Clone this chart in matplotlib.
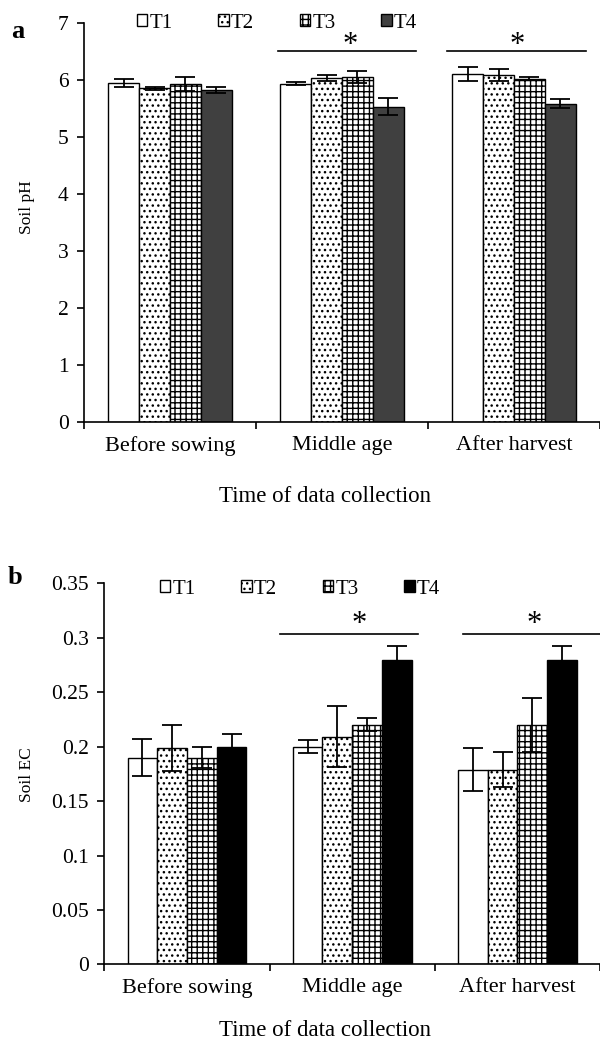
import numpy as np
import matplotlib
matplotlib.use('Agg')
import matplotlib.pyplot as plt

plt.rcParams['font.family'] = ['Liberation Serif', 'DejaVu Serif']
plt.rcParams['hatch.linewidth'] = 1.0

stages = ['Before sowing', 'Middle age', 'After harvest']
treatments = ['T1', 'T2', 'T3', 'T4']

# soil pH (panel a), rows = treatments, columns = stages
ph_mean = [[5.95, 5.93, 6.10],
           [5.85, 6.03, 6.08],
           [5.93, 6.05, 6.02],
           [5.82, 5.53, 5.58]]
ph_err = [[0.07, 0.03, 0.12],
          [0.03, 0.05, 0.10],
          [0.12, 0.10, 0.03],
          [0.06, 0.15, 0.08]]

# soil EC (panel b)
ec_mean = [[0.190, 0.200, 0.179],
           [0.199, 0.209, 0.179],
           [0.190, 0.220, 0.220],
           [0.200, 0.280, 0.280]]
ec_err = [[0.017, 0.006, 0.020],
          [0.021, 0.028, 0.016],
          [0.010, 0.006, 0.025],
          [0.012, 0.012, 0.012]]

hatches = ['', '...', '+++', '']
fig = plt.figure(figsize=(6, 10.52), dpi=100)


def panel(rect, means, errs, t4_color, ylim, yticks, xright):
    ax = fig.add_axes(rect)
    x = np.arange(len(stages))
    w = 0.18
    handles = []
    for i, t in enumerate(treatments):
        fc = t4_color if i == 3 else 'white'
        b = ax.bar(x + (i - 1.5) * w, means[i], w, yerr=errs[i], color=fc,
                   edgecolor='black', linewidth=1.0, hatch=hatches[i],
                   error_kw=dict(ecolor='black', elinewidth=1.3, capsize=7, capthick=1.3),
                   label=t)
        handles.append(b)
    ax.set_xlim(-0.5, xright)
    ax.set_ylim(*ylim)
    ax.set_yticks(yticks)
    ax.set_xticks([-0.5, 0.5, 1.5, 2.5])
    ax.set_xticklabels([])
    ax.set_xticks(x, minor=True)
    ax.set_xticklabels(stages, minor=True, fontsize=16)
    ax.tick_params(axis='x', which='minor', length=0, pad=10)
    ax.tick_params(axis='both', which='major', direction='out', length=5, width=1.2,
                   labelsize=15.5, pad=6)
    for s in ['top', 'right']:
        ax.spines[s].set_visible(False)
    for s in ['left', 'bottom']:
        ax.spines[s].set_linewidth(1.2)
    return ax, handles


axa, ha = panel([0.14, 0.599, 0.86, 0.3794], ph_mean, ph_err, '#404040',
                (0, 7), range(0, 8), 2.465)
axb, hb = panel([0.174, 0.0832, 0.826, 0.3623], ec_mean, ec_err, 'black',
                (0, 0.35), np.arange(0, 0.351, 0.05), 2.49)
axb.set_yticklabels(['0', '0.05', '0.1', '0.15', '0.2', '0.25', '0.3', '0.35'])

# significance lines and asterisks
axa.plot([0.63, 1.43], [6.5, 6.5], color='black', lw=1.2, clip_on=False)
axa.plot([1.61, 2.42], [6.5, 6.5], color='black', lw=1.2, clip_on=False)
axa.text(1.05, 6.6, '*', ha='center', va='center', fontsize=22)
axa.text(2.02, 6.6, '*', ha='center', va='center', fontsize=22)
axb.plot([0.56, 1.40], [0.3037, 0.3037], color='black', lw=1.2, clip_on=False)
axb.plot([1.67, 2.55], [0.3037, 0.3037], color='black', lw=1.2, clip_on=False)
axb.text(1.04, 0.312, '*', ha='center', va='center', fontsize=22)
axb.text(2.10, 0.312, '*', ha='center', va='center', fontsize=22)

for handles, xy in [(ha, (137 / 600, 1 - 23 / 1052)), (hb, (160 / 600, 1 - 589 / 1052))]:
    fig.legend(handles=handles, labels=treatments, loc='center left', bbox_to_anchor=xy,
               ncol=4, frameon=False, fontsize=15, handlelength=0.5, handleheight=0.55,
               handletextpad=0.1, columnspacing=2.2, borderpad=0, borderaxespad=0)

fig.text(27 / 600, 1 - 207 / 1052, 'Soil pH', rotation=90, ha='center', va='center', fontsize=12.5)
fig.text(27 / 600, 1 - 775 / 1052, 'Soil EC', rotation=90, ha='center', va='center', fontsize=12.5)
fig.text(325 / 600, 1 - 497 / 1052, 'Time of data collection', ha='center', va='center', fontsize=16.5)
fig.text(325 / 600, 1 - 1030 / 1052, 'Time of data collection', ha='center', va='center', fontsize=16.5)
fig.text(18 / 600, 1 - 32 / 1052, 'a', ha='center', va='center', fontsize=19, fontweight='bold')
fig.text(15 / 600, 1 - 578 / 1052, 'b', ha='center', va='center', fontsize=19, fontweight='bold')

fig.savefig('out.png', dpi=100)
